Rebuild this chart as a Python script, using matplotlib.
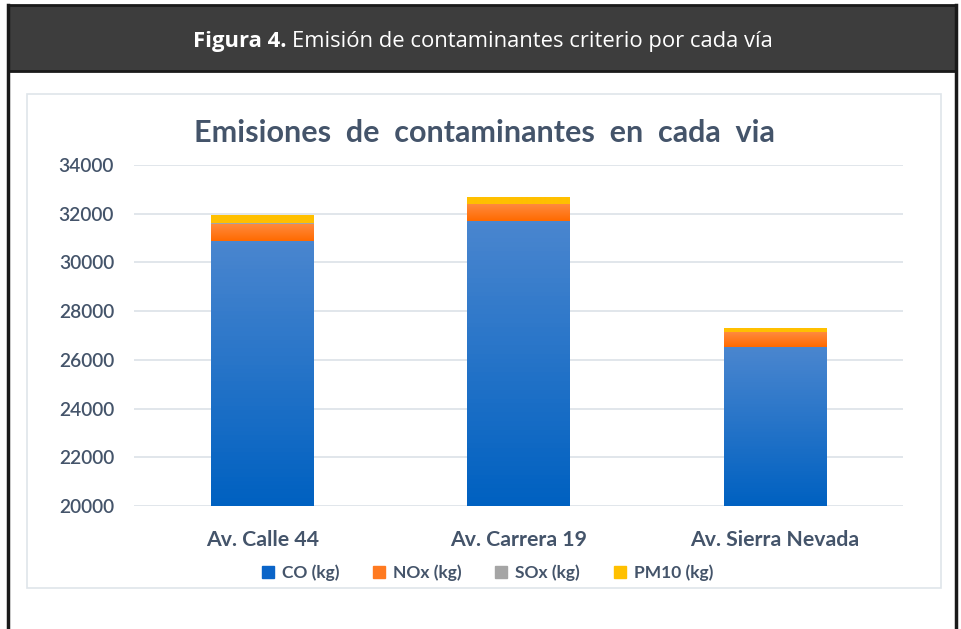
import numpy as np
import matplotlib.pyplot as plt
from matplotlib.patches import Rectangle
from matplotlib.lines import Line2D
from matplotlib.colors import LinearSegmentedColormap

# data
vias = ['Av. Calle 44', 'Av. Carrera 19', 'Av. Sierra Nevada']
co = [30900, 31710, 26520]
nox = [680, 670, 610]
sox = [20, 20, 15]
pm10 = [360, 300, 160]
series_names = ['CO (kg)', 'NOx (kg)', 'SOx (kg)', 'PM10 (kg)']

# (top colour, bottom colour) for the gradient fill, solid colour for legend
grads = [('#4a86cf', '#0061c1'), ('#ff8a3d', '#ff6a00'),
         ('#b0b0b0', '#9a9a9a'), ('#ffc000', '#ffc000')]
solid = ['#0a64c8', '#ff7a20', '#a5a5a5', '#ffc000']
txt_col = '#44546a'

plt.rcParams['font.family'] = ['Lato', 'DejaVu Sans']

fig = plt.figure(figsize=(9.62, 6.29), dpi=100)
W, H = 962, 629

def fx(x):
    return x / W

def fy(y):
    return 1 - y / H

# frame: black border + dark header
bg = fig.add_axes([0, 0, 1, 1])
bg.set_xlim(0, W)
bg.set_ylim(H, 0)
bg.axis('off')
bg.add_patch(Rectangle((8, 5), 948, 66, facecolor='#3d3d3d', edgecolor='#1a1a1a', lw=2))
bg.plot([8, 8], [5, H], color='#1a1a1a', lw=2.5)
bg.plot([956, 956], [5, H], color='#1a1a1a', lw=2.5)
bg.add_patch(Rectangle((27, 94), 914, 494, facecolor='white', edgecolor='#dfe5ea', lw=1.2))

# header caption: bold part + regular part, centred together
t1 = bg.text(0, 41, 'Figura 4.', color='white', fontsize=15.8, fontweight='bold',
             ha='left', va='center', family='Open Sans')
t2 = bg.text(0, 41, 'Emisión de contaminantes criterio por cada vía', color='white',
             fontsize=15.8, ha='left', va='center', family='Open Sans')
r = fig.canvas.get_renderer()
w1 = t1.get_window_extent(r).width
w2 = t2.get_window_extent(r).width
gap = 5
x0 = 483 - (w1 + gap + w2) / 2
t1.set_x(x0)
t2.set_x(x0 + w1 + gap)

bg.text(484, 133, 'Emisiones  de  contaminantes  en  cada  via', color=txt_col,
        fontsize=22, fontweight='bold', ha='center', va='center')

ax = fig.add_axes([fx(134), fy(506), fx(903 - 134), 341 / H])
x = np.arange(len(vias))
width = 0.4
bottom = np.zeros(len(vias))
for vals, (c_top, c_bot), name in zip([co, nox, sox, pm10], grads, series_names):
    bars = ax.bar(x, vals, width, bottom=bottom, color=c_bot, label=name, zorder=2)
    cm = LinearSegmentedColormap.from_list('g', [c_bot, c_top])
    for b in bars:
        bx, by = b.get_x(), b.get_y()
        w, h = b.get_width(), b.get_height()
        grad = np.linspace(0, 1, 64).reshape(-1, 1)
        im = ax.imshow(grad, cmap=cm, aspect='auto', origin='lower',
                       extent=[bx, bx + w, max(by, 20000), by + h], zorder=3)
        im.set_clip_path(b)
    bottom = bottom + np.array(vals)

ax.set_xlim(-0.5, 2.5)
ax.set_ylim(20000, 34000)
ax.set_yticks(range(20000, 34001, 2000))
ax.grid(axis='y', color='#dbe1e8', lw=1.2, zorder=0)
for s in ax.spines.values():
    s.set_visible(False)
ax.tick_params(length=0)
ax.tick_params(axis='y', pad=14.4, labelsize=13.8, labelcolor=txt_col)
for lab in ax.get_yticklabels():
    lab.set_fontweight('semibold')
ax.set_xticks(x)
ax.set_xticklabels(vias, fontsize=15.3, fontweight='bold', color=txt_col)
ax.tick_params(axis='x', pad=17)

handles = [Line2D([], [], marker='s', ls='none', color=c, markersize=8) for c in solid]
leg = fig.legend(handles, series_names, loc='center', bbox_to_anchor=(fx(487), fy(573)),
                 ncol=4, frameon=False, handlelength=0.8, handletextpad=0.4,
                 columnspacing=1.9, prop={'weight': 'bold', 'size': 12.5})
for t in leg.get_texts():
    t.set_color(txt_col)

fig.savefig('out.png', dpi=100)
